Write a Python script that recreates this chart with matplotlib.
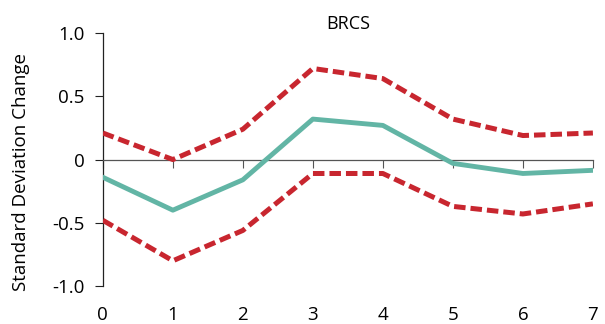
import matplotlib.pyplot as plt

plt.rcParams['font.family'] = ['Open Sans', 'DejaVu Sans']

periods = [0, 1, 2, 3, 4, 5, 6, 7]
estimate = [-0.14, -0.40, -0.16, 0.32, 0.27, -0.03, -0.11, -0.085]
upper = [0.21, 0.0, 0.24, 0.72, 0.64, 0.32, 0.19, 0.21]
lower = [-0.48, -0.80, -0.56, -0.11, -0.11, -0.37, -0.43, -0.35]

teal = "#62B5A5"
red = "#C8262F"

fig = plt.figure(figsize=(6.05, 3.24), dpi=100)
ax = fig.add_axes([0.170, 0.117, 0.810, 0.781])

ax.plot(periods, upper, color=red, lw=3.6, ls=(0, (2.3, 1.0)), zorder=3)
ax.plot(periods, lower, color=red, lw=3.6, ls=(0, (2.3, 1.0)), zorder=3)
ax.plot(periods, estimate, color=teal, lw=3.5, zorder=3)

ax.set_xlim(0, 7)
ax.set_ylim(-1.0, 1.0)
ax.set_yticks([-1.0, -0.5, 0, 0.5, 1.0])
ax.set_yticklabels(['-1.0', '-0.5', '0', '0.5', '1.0'])

ax.spines['top'].set_visible(False)
ax.spines['right'].set_visible(False)
ax.spines['left'].set_color('#222222')
ax.spines['left'].set_linewidth(0.9)
ax.spines['bottom'].set_position(('data', 0))
ax.spines['bottom'].set_color('#555555')
ax.spines['bottom'].set_linewidth(0.9)

ax.set_xticks(periods)
ax.tick_params(axis='x', direction='out', length=6, color='#555555', labelbottom=False)
ax.tick_params(axis='y', direction='out', length=6, color='#222222', labelsize=13.5, pad=7)

sec = ax.secondary_xaxis(0.0)
sec.set_xticks(periods)
sec.spines['bottom'].set_visible(False)
sec.tick_params(length=0, labelsize=13.5, pad=14)

ax.set_ylabel('Standard Deviation Change', fontsize=13.5, labelpad=16, y=0.45)
ax.set_title('BRCS', fontsize=13, pad=3)

fig.savefig('out.png', dpi=100)
